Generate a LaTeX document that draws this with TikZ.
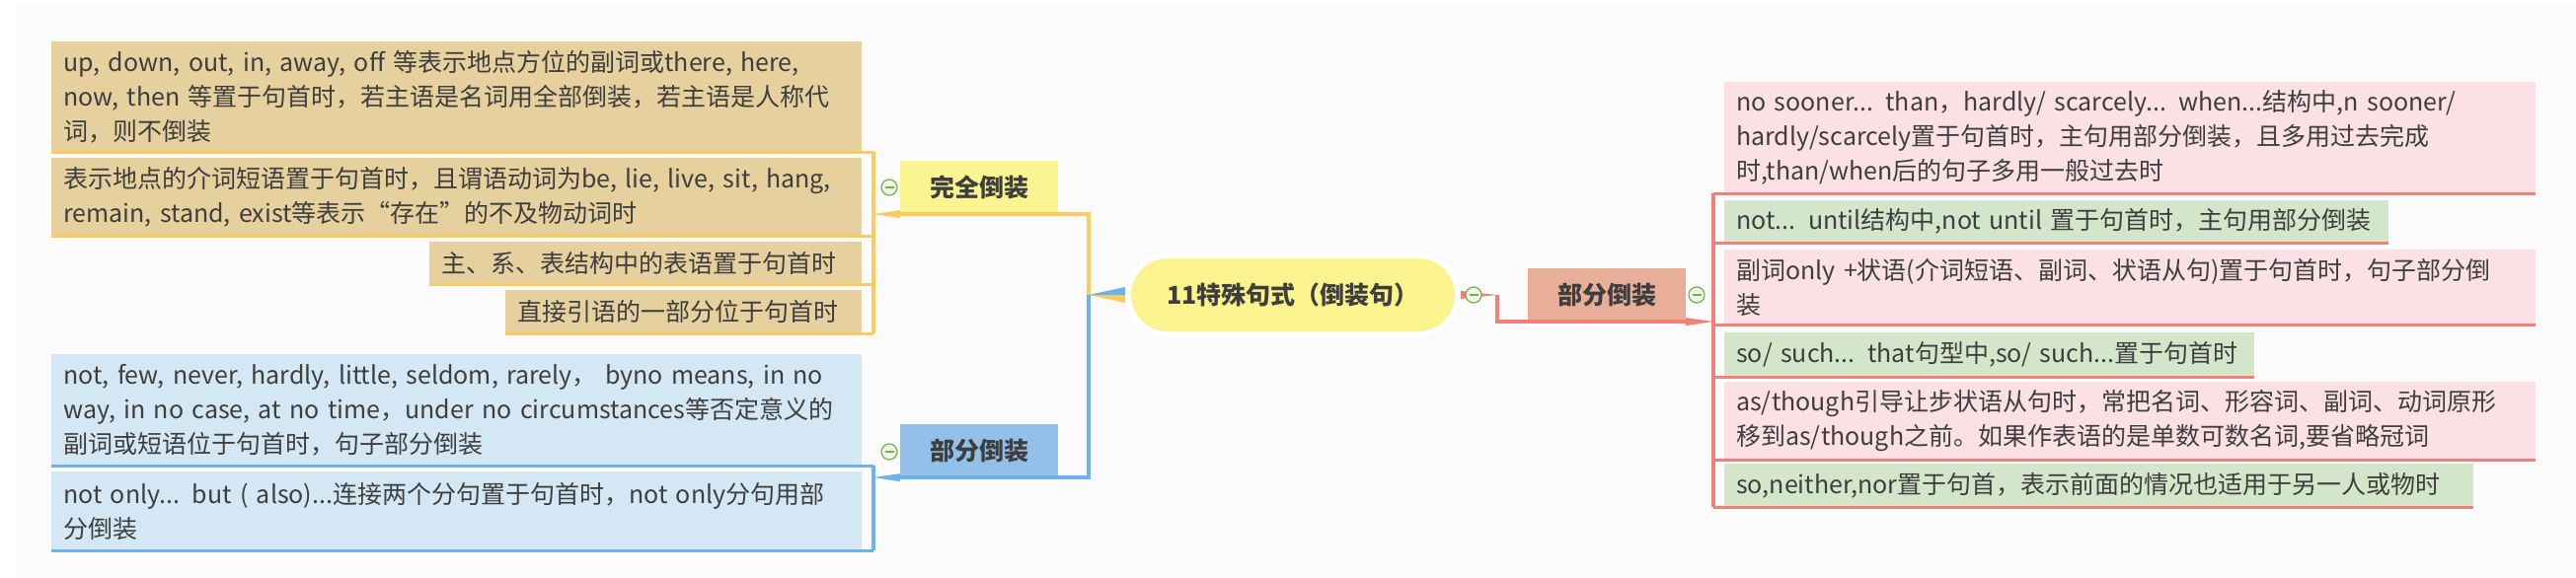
\documentclass[tikz,border=0pt]{standalone}
\usepackage{fontspec}
\setmainfont{Noto Sans CJK SC}

\definecolor{bgcol}{HTML}{FBFBFB}
\definecolor{ink}{HTML}{3E3E3E}
\definecolor{rootfill}{HTML}{FBF38E}
\definecolor{ycol}{HTML}{F8CC5E}
\definecolor{yfill}{HTML}{FBF591}
\definecolor{tanfill}{HTML}{E6D09E}
\definecolor{bcol}{HTML}{6EB1EE}
\definecolor{bfill}{HTML}{93C0E9}
\definecolor{skyfill}{HTML}{D3E8F4}
\definecolor{rcol}{HTML}{F2807A}
\definecolor{rfill}{HTML}{E8AE97}
\definecolor{pinkfill}{HTML}{FBE1E5}
\definecolor{greenfill}{HTML}{D3E6CA}
\definecolor{foldcol}{HTML}{76B043}
\definecolor{foldfill}{HTML}{EEF4EA}

\begin{document}
\begin{tikzpicture}[x=1pt, y=-1pt,
    txt/.style={font=\fontsize{25}{35}\selectfont, text=ink},
    leafbox/.style={txt, anchor=north west, align=left, inner xsep=12pt, inner ysep=0pt},
    mainbox/.style={txt, font=\fontsize{25}{35}\selectfont\bfseries, minimum width=160pt, minimum height=54pt, inner sep=0pt},
    rootbox/.style={txt, font=\fontsize{25}{35}\selectfont\bfseries, fill=rootfill, draw=white, line width=6pt,
        rounded corners=40pt, minimum width=334pt, minimum height=80pt},
    foldmark/.style={circle, draw=foldcol, line width=1.2pt, fill=foldfill, minimum size=16pt, inner sep=0pt,
        path picture={\draw[foldcol, line width=1.8pt] ([xshift=-4.5pt]path picture bounding box.center)
            -- ([xshift=4.5pt]path picture bounding box.center);}},
    yline/.style={draw=ycol, line width=3.5pt},
    bline/.style={draw=bcol, line width=3.5pt},
    rline/.style={draw=rcol, line width=3.5pt}]

    \useasboundingbox (0,0) rectangle (2610,586);
    \fill[white] (0,0) rectangle (2610,586);
    \fill[bgcol] (17,6) rectangle (2610,586);

    % centre and main branches
    \node[rootbox] (root) at (1310,299) {11特殊句式（倒装句）};
    \node[mainbox, fill=yfill] (full) at (992,190) {完全倒装};
    \node[mainbox, fill=bfill] (partL) at (992,457) {部分倒装};
    \node[mainbox, fill=rfill] (partR) at (1628,299) {部分倒装};

    % 完全倒装
    \node[leafbox, fill=tanfill, text width=797pt, minimum height=112pt] (a1) at (52,42)
        {up, down, out, in, away, off 等表示地点方位的副词或there, here,\\
         now, then 等置于句首时，若主语是名词用全部倒装，若主语是人称代\\
         词，则不倒装};
    \node[leafbox, fill=tanfill, text width=797pt, minimum height=79pt] (a2) at (52,160)
        {表示地点的介词短语置于句首时，且谓语动词为be, lie, live, sit, hang,\\
         remain, stand, exist等表示“存在”的不及物动词时};
    \node[leafbox, fill=tanfill, text width=414pt, minimum height=43pt] (a3) at (435,245) {主、系、表结构中的表语置于句首时};
    \node[leafbox, fill=tanfill, text width=337pt, minimum height=44pt] (a4) at (512,294) {直接引语的一部分位于句首时};

    % 部分倒装 (left)
    \node[leafbox, fill=skyfill, text width=797pt, minimum height=113pt] (b1) at (52,359)
        {not, few, never, hardly, little, seldom, rarely， byno means, in no\\
         way, in no case, at no time，under no circumstances等否定意义的\\
         副词或短语位于句首时，句子部分倒装};
    \node[leafbox, fill=skyfill, text width=797pt, minimum height=80pt] (b2) at (52,478)
        {not only... but ( also)...连接两个分句置于句首时，not only分句用部\\
         分倒装};

    % 部分倒装 (right)
    \node[leafbox, fill=pinkfill, text width=798pt, minimum height=113pt] (r1) at (1747,83)
        {no sooner... than，hardly/ scarcely... when...结构中,n sooner/\\
         hardly/scarcely置于句首时，主句用部分倒装，且多用过去完成\\
         时,than/when后的句子多用一般过去时};
    \node[leafbox, fill=greenfill, text width=649pt, minimum height=43pt] (r2) at (1747,203)
        {not... until结构中,not until 置于句首时，主句用部分倒装};
    \node[leafbox, fill=pinkfill, text width=798pt, minimum height=76pt] (r3) at (1747,253)
        {副词only +状语(介词短语、副词、状语从句)置于句首时，句子部分倒\\
         装};
    \node[leafbox, fill=greenfill, text width=513pt, minimum height=45pt] (r4) at (1747,337)
        {so/ such... that句型中,so/ such...置于句首时};
    \node[leafbox, fill=pinkfill, text width=798pt, minimum height=79pt] (r5) at (1747,387)
        {as/though引导让步状语从句时，常把名词、形容词、副词、动词原形\\
         移到as/though之前。如果作表语的是单数可数名词,要省略冠词};
    \node[leafbox, fill=greenfill, text width=735pt, minimum height=44pt] (r6) at (1747,470)
        {so,neither,nor置于句首，表示前面的情况也适用于另一人或物时};

    \coordinate (rootL) at (1103,299);
    \coordinate (rootR) at (1517,299);
    \coordinate (fullJ) at (885,217);
    \coordinate (partLJ) at (885,484);
    \coordinate (partRJ) at (1736,326);

    % yellow branch
    \fill[ycol] (rootL) -- (root.west) -- ++(0,8) -- cycle;
    \draw[yline] (rootL) |- (full.south east) -- (full.south west);
    \fill[ycol] (fullJ) -- ([yshift=4pt]full.south west) -- ([yshift=-4pt]full.south west) -- cycle;
    \draw[yline] (fullJ |- a1.south) -- (fullJ |- a4.south);
    \foreach \n in {a1,a2,a3,a4}
        \draw[yline] (\n.south west) -- (\n.south east) -- (fullJ |- \n.south);

    % blue branch
    \fill[bcol] (rootL) -- (root.west) -- ++(0,-8) -- cycle;
    \draw[bline] (rootL) |- (partL.south east) -- (partL.south west);
    \fill[bcol] (partLJ) -- ([yshift=4pt]partL.south west) -- ([yshift=-4pt]partL.south west) -- cycle;
    \draw[bline] (partLJ |- b1.south) -- (partLJ |- b2.south);
    \foreach \n in {b1,b2}
        \draw[bline] (\n.south west) -- (\n.south east) -- (partLJ |- \n.south);

    % red branch
    \fill[rcol] (rootR) -- ([yshift=4pt]root.east) -- ([yshift=-4pt]root.east) -- cycle;
    \draw[rline] (rootR) |- (partR.south west) -- (partR.south east);
    \fill[rcol] (partRJ) -- ([yshift=4pt]partR.south east) -- ([yshift=-4pt]partR.south east) -- cycle;
    \draw[rline] (partRJ |- r1.south) -- (partRJ |- r6.south);
    \foreach \n in {r1,r2,r3,r4,r5,r6}
        \draw[rline] (partRJ |- \n.south) -- (\n.south west) -- (\n.south east);

    % fold marks
    \node[foldmark] (fold1) at (901,190) {};
    \node[foldmark] (fold2) at (901,458) {};
    \node[foldmark] (fold3) at (1493,299) {};
    \node[foldmark] (fold4) at (1719,299) {};
\end{tikzpicture}
\end{document}
